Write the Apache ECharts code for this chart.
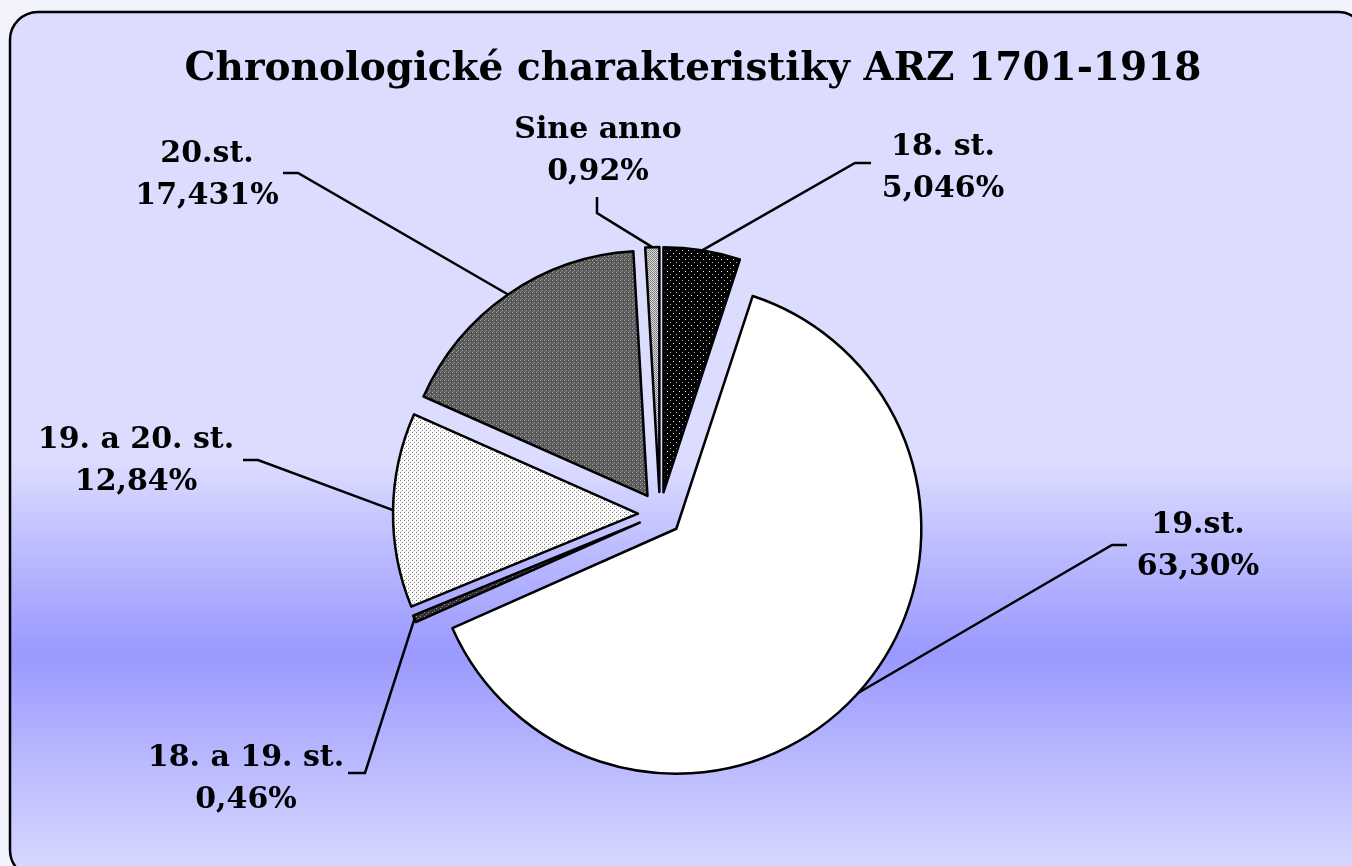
<!DOCTYPE html>
<html>
<head>
<meta charset="utf-8">
<title>Chronologické charakteristiky ARZ 1701-1918</title>
<script src="https://cdn.jsdelivr.net/npm/echarts@6/dist/echarts.min.js"></script>
<style>
  html, body { margin: 0; padding: 0; background: #f2f2fd; }
  #chart { width: 1352px; height: 866px; }
</style>
</head>
<body>
<div id="chart"></div>
<script>
// categories clockwise from 12 o'clock
const categories = ['18. st.', '19.st.', '18. a 19. st.', '19. a 20. st.', '20.st.', 'Sine anno']
const shares = [5.046, 63.30, 0.46, 12.84, 17.431, 0.92]
const shareLabels = ['5,046%', '63,30%', '0,46%', '12,84%', '17,431%', '0,92%']

const FONT = '"DejaVu Serif", Georgia, serif'
const CENTER = [660, 514]
const RADIUS = 245
const EXPLODE = 22

// where each label sits and where its leader line bends/ends
const labelPos = [
  { x: 943, y: 168, bend: [855, 163], end: [871, 163] },
  { x: 1198, y: 546, bend: [1112, 545], end: [1127, 545] },
  { x: 246, y: 779, bend: [365, 773], end: [348, 773] },
  { x: 136, y: 461, bend: [258, 460], end: [243, 460] },
  { x: 207, y: 175, bend: [298, 173], end: [283, 173] },
  { x: 598, y: 151, bend: [597, 213], end: [597, 197] },
]

// small dotted tiles, like the old office fill patterns
function tile(size, bg, dots) {
  const c = document.createElement('canvas')
  c.width = size; c.height = size
  const g = c.getContext('2d')
  g.fillStyle = bg
  g.fillRect(0, 0, size, size)
  dots.forEach(([x, y, col]) => { g.fillStyle = col; g.fillRect(x, y, 1, 1) })
  return { image: c, repeat: 'repeat' }
}

const fills = [
  tile(6, '#000000', [[1, 1, '#ffffff'], [4, 4, '#bbbbbb']]),
  '#ffffff',
  tile(4, '#333333', [[0, 0, '#999999'], [2, 2, '#777777']]),
  tile(4, '#ffffff', [[0, 0, '#777777'], [2, 2, '#888888'], [1, 3, '#dddddd']]),
  tile(4, '#5a5a5a', [[0, 0, '#aaaaaa'], [2, 2, '#9a9a9a'], [1, 3, '#8a8a8a'], [3, 1, '#444444']]),
  tile(2, '#dddddd', [[0, 0, '#777777'], [1, 1, '#888888']]),
]

const total = shares.reduce((a, b) => a + b, 0)

// one pie per slice, so every slice can be pushed out along its own middle angle
const series = categories.map((name, k) => {
  const before = shares.slice(0, k).reduce((a, b) => a + b, 0)
  const mid = (before + shares[k] / 2) / total * Math.PI * 2
  const cx = CENTER[0] + Math.sin(mid) * EXPLODE
  const cy = CENTER[1] - Math.cos(mid) * EXPLODE
  return {
    type: 'pie',
    center: [cx, cy],
    radius: [0, RADIUS],
    startAngle: 90,
    clockwise: true,
    avoidLabelOverlap: false,
    silent: true,
    animation: false,
    data: categories.map((c, i) => ({
      name: c,
      value: shares[i],
      itemStyle: i === k
        ? { color: fills[i], borderColor: '#000', borderWidth: 2.5 }
        : { color: 'rgba(0,0,0,0)', borderWidth: 0 },
      label: { show: i === k },
      labelLine: { show: i === k },
    })),
    label: {
      position: 'outside',
      color: '#000',
      fontFamily: FONT,
      fontWeight: 'bold',
      fontSize: 30,
      lineHeight: 42,
      align: 'center',
      formatter: (p) => p.name + '\n' + shareLabels[p.dataIndex],
    },
    labelLine: {
      show: true,
      length: 20,
      length2: 15,
      lineStyle: { color: '#000', width: 2.5 },
    },
    labelLayout: (p) => {
      const lp = labelPos[p.dataIndex]
      const start = p.labelLinePoints ? p.labelLinePoints[0] : lp.bend
      return {
        x: lp.x,
        y: lp.y,
        align: 'center',
        verticalAlign: 'middle',
        labelLinePoints: [start, lp.bend, lp.end],
      }
    },
  }
})

const chart = echarts.init(document.getElementById('chart'))
chart.setOption({
  backgroundColor: '#f2f2fd',
  animation: false,
  title: {
    text: 'Chronologické charakteristiky ARZ 1701-1918',
    left: 688,
    textAlign: 'center',
    top: 45,
    textStyle: { fontFamily: FONT, fontWeight: 'bold', fontSize: 39, color: '#000' },
  },
  graphic: [{
    type: 'rect',
    z: -10,
    silent: true,
    shape: { x: 10, y: 12, width: 1356, height: 866, r: 28 },
    style: {
      fill: new echarts.graphic.LinearGradient(0, 0, 0, 1, [
        { offset: 0, color: '#dcdcff' },
        { offset: 0.52, color: '#dcdcff' },
        { offset: 0.62, color: '#bcbcff' },
        { offset: 0.74, color: '#9999ff' },
        { offset: 0.86, color: '#b8b8ff' },
        { offset: 1, color: '#dadaff' },
      ]),
      stroke: '#000',
      lineWidth: 2.5,
    },
  }],
  series,
})
</script>
</body>
</html>
